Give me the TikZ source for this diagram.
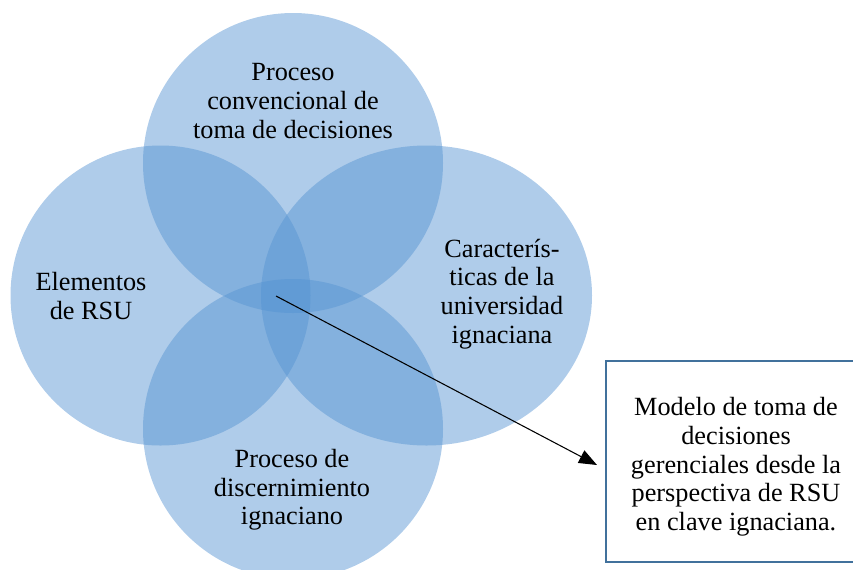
\documentclass[tikz,border=0pt]{standalone}
\usepackage{fontspec}
\setmainfont{Liberation Serif}
\usetikzlibrary{arrows.meta}
\definecolor{vennA}{RGB}{175,204,234}
\definecolor{vennB}{RGB}{132,177,222}
\definecolor{vennC}{RGB}{110,163,216}
\definecolor{vennD}{RGB}{97,155,213}
\definecolor{boxblue}{RGB}{65,113,156}
\begin{document}
\begin{tikzpicture}[x=0.75pt,y=-0.75pt,
  txt/.style={align=center, font=\fontsize{19.7}{21.5}\selectfont, text=black, inner sep=0pt},
  boxst/.style={draw=none, fill=white, minimum width=210pt, minimum height=150.75pt, inner sep=0pt},
  boxline/.style={draw=boxblue, line width=1.5pt},
  conn/.style={line width=0.8pt, -{Triangle[length=13.5pt,width=10.5pt]}}]
\useasboundingbox (0,0) rectangle (853,569);
% single circles
\fill[vennA] (293,163) circle [radius=150];
\fill[vennA] (160.5,295.5) circle [radius=150];
\fill[vennA] (426.5,295.5) ellipse [x radius=165.5, y radius=150];
\fill[vennA] (293,429) circle [radius=150];
% pairwise overlaps
\begin{scope}\clip (293,163) circle [radius=150]; \fill[vennB] (160.5,295.5) circle [radius=150];\end{scope}
\begin{scope}\clip (293,163) circle [radius=150]; \fill[vennB] (426.5,295.5) ellipse [x radius=165.5, y radius=150];\end{scope}
\begin{scope}\clip (293,163) circle [radius=150]; \fill[vennB] (293,429) circle [radius=150];\end{scope}
\begin{scope}\clip (160.5,295.5) circle [radius=150]; \fill[vennB] (426.5,295.5) ellipse [x radius=165.5, y radius=150];\end{scope}
\begin{scope}\clip (160.5,295.5) circle [radius=150]; \fill[vennB] (293,429) circle [radius=150];\end{scope}
\begin{scope}\clip (426.5,295.5) ellipse [x radius=165.5, y radius=150]; \fill[vennB] (293,429) circle [radius=150];\end{scope}
% triple overlaps
\begin{scope}\clip (293,163) circle [radius=150]; \clip (160.5,295.5) circle [radius=150]; \fill[vennC] (426.5,295.5) ellipse [x radius=165.5, y radius=150];\end{scope}
\begin{scope}\clip (293,163) circle [radius=150]; \clip (160.5,295.5) circle [radius=150]; \fill[vennC] (293,429) circle [radius=150];\end{scope}
\begin{scope}\clip (293,163) circle [radius=150]; \clip (426.5,295.5) ellipse [x radius=165.5, y radius=150]; \fill[vennC] (293,429) circle [radius=150];\end{scope}
\begin{scope}\clip (160.5,295.5) circle [radius=150]; \clip (426.5,295.5) ellipse [x radius=165.5, y radius=150]; \fill[vennC] (293,429) circle [radius=150];\end{scope}
% quadruple overlap
\begin{scope}\clip (293,163) circle [radius=150]; \clip (160.5,295.5) circle [radius=150]; \clip (426.5,295.5) ellipse [x radius=165.5, y radius=150]; \fill[vennD] (293,429) circle [radius=150];\end{scope}
% labels
\node[txt] (ltop) at (293,101) {Proceso\\convencional de\\toma de decisiones};
\node[txt] (lleft) at (91,296) {Elementos\\de RSU};
\node[txt] (lright) at (502,294) {Caracterís-\\ticas de la\\universidad\\ignaciana};
\node[txt] (lbottom) at (292,490) {Proceso de\\discernimiento\\ignaciano};
% box (its right side lies outside the picture)
\node[boxst] (box) at (746,461.5) {};
\draw[boxline] (box.north east) -- (box.north west) -- (box.south west) -- (box.south east);
\node[txt] (boxtxt) at (736,467) {Modelo de toma de\\decisiones\\gerenciales desde la\\perspectiva de RSU\\en clave ignaciana.};
% arrow
\coordinate (start) at (276,296);
\coordinate (tip) at (597,465);
\draw[conn] (start) -- (tip);
\end{tikzpicture}
\end{document}
